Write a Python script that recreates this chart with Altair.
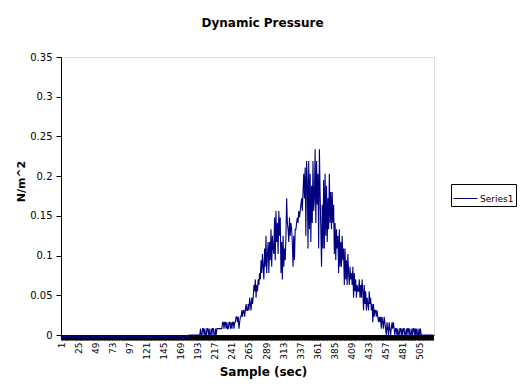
import altair as alt
import pandas as pd

# Dynamic pressure trace (N/m^2), one value per sample
quiet = [
    0, -0.004, 0, -0.004, 0, -0.004, 0, -0.004, 0, -0.004, 0, -0.004, 0, -0.004, 0, -0.004, 0, -0.004, 0, -0.004,
    0, -0.004, 0, -0.004, 0, -0.004, 0, -0.004, 0, -0.004, 0, -0.004, 0, -0.004, 0, -0.004, 0, -0.004, 0, -0.004,
    0, -0.004, 0, -0.004, 0, -0.004, 0, -0.004, 0, -0.004, 0, -0.004, 0, -0.004, 0, -0.004, 0, -0.004, 0, -0.004,
    0, -0.004, 0, -0.004, 0, -0.004, 0, -0.004, 0, -0.004, 0, -0.004, 0, -0.004, 0, -0.004, 0, -0.004, 0, -0.004,
    0, -0.004, 0, -0.004, 0, -0.004, 0, -0.004, 0, -0.004, 0, -0.004, 0, -0.004, 0, -0.004, 0, -0.004, 0, -0.004,
    0, -0.004, 0, -0.004, 0, -0.004, 0, -0.004, 0, -0.004, 0, -0.004, 0, -0.004, 0, -0.004, 0, -0.004, 0, -0.004,
    0, -0.004, 0, -0.004, 0, -0.004, 0, -0.004, 0, -0.004, 0, -0.004, 0, -0.004, 0, -0.004, 0, -0.004, 0, -0.004,
    0, -0.004, 0, -0.004, 0, -0.004, 0, -0.004, 0, -0.004, 0, -0.004, 0, -0.004, 0, -0.004, 0, -0.004, 0, -0.004,
    0, -0.004, 0, -0.004, 0, -0.004, 0, -0.004, 0, -0.004, 0, -0.004, 0, -0.004, 0, -0.004, 0, -0.004, 0, -0.004,
    0, 0, 0, 0, 0, 0, 0, 0, 0, 0, 0, 0, 0, 0, 0,
]
rise = [
    0, .008, 0, 0, .008, .008, 0, .008, 0, 0, .008, .008, 0, .008, 0, 0, .008, 0, .008, .008, 0, 0, .008, 0, .008,
    .008, .008, .008, .008, .008, .008, .008,
    .016, .016, .008, .016, .016, .008, .016, .008, .008, .016, .016, .008, .016, .008, .016, .016, .008, .016, .016,
    .023, .023, .016, .023, .008, .016, .023,
    .023, .031, .023, .031, .031, .023, .031, .039, .031, .031,
    .039, .031, .047, .039, .031, .047, .039,
    .047, .063, .055, .070, .047, .063, .055, .070,
    .063, .078, .070, .094, .078, .102, .086,
    .070, .109, .086, .125, .078, .102, .117,
    .078, .117, .094, .133, .086, .125, .109,
    .102, .148, .094, .156, .117, .141, .102, .156, .125, .148,
    .078, .117, .070, .125, .086, .109, .094,
    .125, .172, .141, .133,
    .117, .148, .125, .141, .133, .117,
    .086, .125, .094, .133,
    .133, .141, .148, .141, .156, .148, .156, .164, .172, .156,
]
peak = [
    .180, .203, .172, .211, .125, .219, .195,
    .109, .219, .133, .203, .117, .188, .141, .219, .156,
    .172, .234, .141, .219, .164, .203, .109, .234, .180, .133,
    .086, .164, .109, .195,
    .109, .203, .125, .188, .117, .172,
    .133, .203, .141, .180,
    .133, .180, .141, .164,
]
fall = [
    .102, .141, .094, .133, .109, .125,
    .078, .133, .086, .117,
    .086, .125, .094, .109,
    .063, .109, .070, .094, .063, .102, .078,
    .063, .086, .070, .078, .063, .086,
    .047, .078, .055, .070, .047, .063, .055,
    .055, .070, .047, .063, .047, .070, .055,
    .031, .063, .039, .055, .031, .047, .039,
    .031, .055, .039, .047, .031, .039, .016, .039,
    .023, .031, .031, .023, .031, .023,
    .016, .023, .016, .023,
    .008, .023, .016, .008, .023, .016, .008,
    0, .016, .008, 0, .016, .008, 0,
    .008, .016, .008, .016,
]
tail = [
    .008, 0, .008, .008, 0, .008, 0, 0, .008, .008, 0, .008, 0, .008, .008, 0, 0, .008, 0,
    .008, .008, 0, .008, 0, 0, .008, 0, .008, .008, 0, .008, 0, .008, 0, 0, .008, 0, .008,
    0, 0, 0, 0, 0, 0, 0, 0, 0, 0, 0, 0, 0, 0, 0, 0, 0, 0,
]
tick_labels = [1, 25, 49, 73, 97, 121, 145, 169, 193, 217, 241, 265, 289,
               313, 337, 361, 385, 409, 433, 457, 481, 505]
y_ticks = [0, 0.05, 0.1, 0.15, 0.2, 0.25, 0.3, 0.35]
series_name = "Series1"

values = quiet + rise + peak + fall + tail
samples = list(range(1, len(values) + 1))
df = pd.DataFrame({"sample": samples, "pressure": values, "series": series_name})

label_expr = ("indexof([" + ",".join(str(v) for v in tick_labels)
              + "], datum.value) >= 0 ? datum.value : ''")

FONT = "DejaVu Sans"

chart = alt.Chart(df).mark_line(strokeWidth=1.1, clip=False).encode(
    x=alt.X(
        "sample:Q",
        scale=alt.Scale(domain=[1, 525], nice=False, zero=False),
        axis=alt.Axis(
            values=samples, labelExpr=label_expr, labelAngle=270,
            labelOverlap=False, labelBound=False, labelFlush=False,
            labelFontSize=9, labelFont=FONT, labelColor="black", labelPadding=2,
            tickSize=5, tickColor="black", tickWidth=1,
            domainColor="black", grid=False,
            title="Sample (sec)", titleFont=FONT, titleFontSize=12,
            titleFontWeight="bold", titleColor="black",
            titleX=202, titleY=36, titleAlign="center", titleBaseline="middle",
        ),
    ),
    y=alt.Y(
        "pressure:Q",
        scale=alt.Scale(domain=[0, 0.35], nice=False),
        axis=alt.Axis(
            values=y_ticks, format=".2~f",
            labelFontSize=10, labelFont=FONT, labelColor="black", labelPadding=4,
            tickSize=5, tickColor="black", domainColor="black", grid=False,
            title="N/m^2", titleFont=FONT, titleFontSize=11,
            titleFontWeight="bold", titleColor="black",
            titleX=-40, titleY=124, titleAlign="center", titleBaseline="middle",
        ),
    ),
    color=alt.Color(
        "series:N",
        scale=alt.Scale(range=["#000080"]),
        legend=alt.Legend(
            title=None, orient="none", legendX=390, legendY=127,
            strokeColor="black", fillColor="white", padding=2, cornerRadius=0,
            symbolType="stroke", symbolSize=576, symbolStrokeWidth=1,
            labelFont=FONT, labelFontSize=9, labelColor="black", labelOffset=2,
        ),
    ),
).properties(
    width=373,
    height=278,
    autosize=alt.AutoSizeParams(type="none"),
    padding={"left": 53, "top": 49, "right": 84, "bottom": 48},
    title=alt.TitleParams(
        "Dynamic Pressure", font=FONT, fontSize=12, fontWeight="bold",
        color="black", anchor="middle", dx=15, offset=22,
    ),
).configure_view(stroke="#808080", strokeWidth=1).configure(background="white")

chart.save("out.html", embed_options={"renderer": "svg", "actions": False})
